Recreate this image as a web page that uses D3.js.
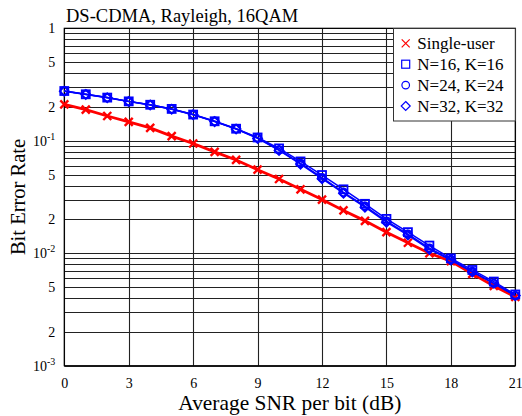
<!DOCTYPE html>
<html>
<head>
<meta charset="utf-8">
<script src="https://cdn.jsdelivr.net/npm/d3@7"></script>
<style>
  body { margin: 0; background: #fff; }
</style>
</head>
<body>
<svg id="chart"></svg>
<script>
const width = 522;
const height = 416;
const FONT = "Liberation Serif";

// data
const snr = [0, 1, 2, 3, 4, 5, 6, 7, 8, 9, 10, 11, 12, 13, 14, 15, 16, 17, 18, 19, 20, 21];
const singleUser = [0.211, 0.189, 0.166, 0.147, 0.130, 0.110, 0.0946, 0.0796, 0.0675, 0.0553, 0.0457, 0.037,
  0.030, 0.024, 0.0194, 0.0154, 0.0124, 0.0100, 0.0085, 0.00655, 0.00512, 0.0041];
const n16 = [0.277, 0.259, 0.242, 0.224, 0.209, 0.192, 0.171, 0.149, 0.128, 0.107, 0.0855, 0.0655,
  0.0496, 0.037, 0.0275, 0.0202, 0.0154, 0.0117, 0.0090, 0.0071, 0.0056, 0.0043];
const n24 = [0.277, 0.259, 0.242, 0.224, 0.209, 0.192, 0.171, 0.149, 0.128, 0.106, 0.083, 0.063,
  0.047, 0.0348, 0.0262, 0.0193, 0.0148, 0.0111, 0.0088, 0.0069, 0.0054, 0.0042];
const n32 = [0.276, 0.258, 0.241, 0.223, 0.208, 0.191, 0.170, 0.148, 0.127, 0.105, 0.082, 0.062,
  0.046, 0.0342, 0.0257, 0.0189, 0.0145, 0.0108, 0.0087, 0.0068, 0.0054, 0.0042];
const xTicks = [0, 3, 6, 9, 12, 15, 18, 21];
const yMajor = [1e-3, 1e-2, 1e-1, 1];
const seriesNames = ["Single-user", "N=16, K=16", "N=24, K=24", "N=32, K=32"];

const margin = { left: 64.3, right: 6.7, top: 28.3, bottom: 50.3 };

const svg = d3.select("#chart")
  .attr("width", width)
  .attr("height", height);

const x = d3.scaleLinear()
  .domain([0, 21])
  .range([margin.left, width - margin.right]);
const y = d3.scaleLog()
  .domain([1e-3, 1])
  .range([height - margin.bottom, margin.top]);

// grid
const minor = [];
[1e-3, 1e-2, 1e-1].forEach(function (d) {
  for (let k = 2; k <= 9; k++) minor.push(d * k);
});
const grid = svg.append("g").attr("class", "grid");
grid.selectAll("line.h")
  .data(minor.concat(yMajor))
  .enter().append("line")
  .attr("x1", x(0)).attr("x2", x(21))
  .attr("y1", d => Math.round(y(d)) + 0.5)
  .attr("y2", d => Math.round(y(d)) + 0.5)
  .attr("stroke", "#222")
  .attr("stroke-width", 1.1);
grid.selectAll("line.v")
  .data(xTicks)
  .enter().append("line")
  .attr("y1", y(1)).attr("y2", y(1e-3))
  .attr("x1", d => Math.round(x(d)) + 0.5)
  .attr("x2", d => Math.round(x(d)) + 0.5)
  .attr("stroke", "#222")
  .attr("stroke-width", 1.1);

// axes
const xAxis = svg.append("g")
  .attr("transform", "translate(0," + y(1e-3) + ")")
  .call(d3.axisBottom(x).tickValues(xTicks).tickSize(0).tickPadding(12));
xAxis.attr("font-size", 14);
xAxis.select(".domain").remove();
xAxis.selectAll("text").attr("fill", "#000");

const yLabels = [
  { v: 1, t: "1" }, { v: 0.5, t: "5" }, { v: 0.2, t: "2" },
  { v: 0.1, t: "10", e: "-1" }, { v: 0.05, t: "5" }, { v: 0.02, t: "2" },
  { v: 0.01, t: "10", e: "-2" }, { v: 0.005, t: "5" }, { v: 0.002, t: "2" },
  { v: 0.001, t: "10", e: "-3" }
];
const yl = svg.append("g").selectAll("text")
  .data(yLabels)
  .enter().append("text")
  .attr("x", margin.left - 9)
  .attr("y", d => y(d.v) + 5)
  .attr("text-anchor", "end")
  .attr("font-size", 14)
  .attr("fill", "#000");
yl.append("tspan").text(d => d.t);
yl.filter(d => d.e).append("tspan")
  .attr("dy", -6)
  .attr("font-size", 10)
  .text(d => d.e);

// frame
svg.append("rect")
  .attr("x", x(0)).attr("y", y(1))
  .attr("width", x(21) - x(0))
  .attr("height", y(1e-3) - y(1))
  .attr("fill", "none")
  .attr("stroke", "#000")
  .attr("stroke-width", 1.2);

// series
const line = d3.line()
  .x((d, i) => x(snr[i]))
  .y(d => y(d));

const series = [
  { name: seriesNames[0], values: singleUser, color: "#ff0000", marker: "x", lw: 2.8 },
  { name: seriesNames[1], values: n16, color: "#0000ff", marker: "square", lw: 1.5 },
  { name: seriesNames[2], values: n24, color: "#0000ff", marker: "circle", lw: 1.5 },
  { name: seriesNames[3], values: n32, color: "#0000ff", marker: "diamond", lw: 1.5 }
];

function drawMarker(g, type, cx, cy, color, sw) {
  if (type === "x") {
    g.append("path")
      .attr("d", "M" + (cx - 4) + "," + (cy - 4) + "L" + (cx + 4) + "," + (cy + 4) +
        "M" + (cx - 4) + "," + (cy + 4) + "L" + (cx + 4) + "," + (cy - 4))
      .attr("stroke", color).attr("stroke-width", sw).attr("fill", "none");
  } else if (type === "square") {
    g.append("rect")
      .attr("x", cx - 4).attr("y", cy - 4).attr("width", 8).attr("height", 8)
      .attr("stroke", color).attr("stroke-width", sw).attr("fill", "none");
  } else if (type === "circle") {
    g.append("circle")
      .attr("cx", cx).attr("cy", cy).attr("r", 3.8)
      .attr("stroke", color).attr("stroke-width", sw).attr("fill", "none");
  } else {
    g.append("path")
      .attr("d", "M" + cx + "," + (cy - 4.5) + "L" + (cx + 4.5) + "," + cy +
        "L" + cx + "," + (cy + 4.5) + "L" + (cx - 4.5) + "," + cy + "Z")
      .attr("stroke", color).attr("stroke-width", sw).attr("fill", "none");
  }
}

const plot = svg.append("g").attr("class", "series");
series.forEach(function (s) {
  const g = plot.append("g");
  g.append("path")
    .datum(s.values)
    .attr("d", line)
    .attr("fill", "none")
    .attr("stroke", s.color)
    .attr("stroke-width", s.lw);
  s.values.forEach(function (v, i) {
    drawMarker(g, s.marker, x(snr[i]), y(v), s.color, s.marker === "x" ? 2.4 : 1.8);
  });
});

// legend
const lg = svg.append("g");
const lgX = 393.5, lgY = 28.5, lgW = x(21) - 393.5, lgH = 92.5;
lg.append("rect")
  .attr("x", lgX).attr("y", lgY).attr("width", lgW).attr("height", lgH)
  .attr("fill", "#fff").attr("stroke", "#333").attr("stroke-width", 1);
series.forEach(function (s, i) {
  const cy = 43.3 + i * 20.9;
  drawMarker(lg, s.marker, 405.7, cy, s.color, 1.2);
  lg.append("text")
    .attr("x", 417.3).attr("y", cy + 5.8)
    .attr("font-size", 17)
    .attr("fill", "#000")
    .text(s.name);
});

// title and axis labels
svg.append("text")
  .attr("x", 66).attr("y", 21.5)
  .attr("font-size", 18.5)
  .attr("fill", "#000")
  .text("DS-CDMA, Rayleigh, 16QAM");

svg.append("text")
  .attr("x", (x(0) + x(21)) / 2).attr("y", 410)
  .attr("text-anchor", "middle")
  .attr("font-size", 21.4)
  .attr("fill", "#000")
  .text("Average SNR per bit (dB)");

svg.append("text")
  .attr("transform", "translate(24.5," + (y(1) + y(1e-3)) / 2 + ") rotate(-90)")
  .attr("text-anchor", "middle")
  .attr("font-size", 20.5)
  .attr("fill", "#000")
  .text("Bit Error Rate");

// serif face on every text
svg.selectAll("text").attr("font-family", FONT);
</script>
</body>
</html>
